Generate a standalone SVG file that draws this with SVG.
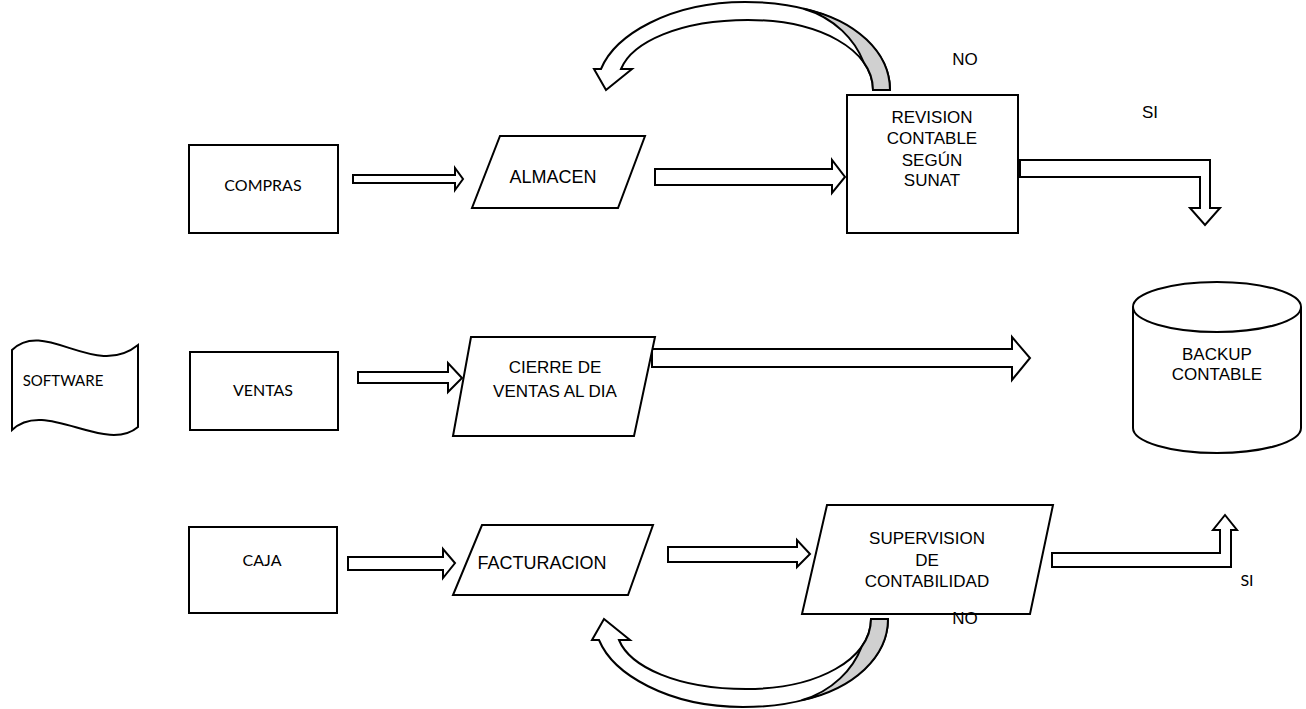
<svg xmlns="http://www.w3.org/2000/svg" width="1306" height="709" viewBox="0 0 1306 709">
<style>
.s{fill:#fff;stroke:#000;stroke-width:2;stroke-linejoin:miter}
.g{fill:#d0d0d0;stroke:#000;stroke-width:2}
.a{font-family:"Liberation Sans",Arial,sans-serif;font-size:17px;fill:#000;text-anchor:middle}
.c{font-family:Lato,"Open Sans",sans-serif;font-size:16px;fill:#000;text-anchor:middle}
</style>
<rect width="1306" height="709" fill="#fff"/>
<g id="connectors">
<path class="s" d="M353,175 L455,175 L455,168 L463,179 L455,190 L455,183 L353,183 Z"/>
<path class="s" d="M655,169 L832,169 L832,160 L845,177 L832,193 L832,185 L655,185 Z"/>
<path class="s" d="M1020,160 L1210,160 L1210,208 L1220,208 L1205,225 L1190,208 L1200,208 L1200,177 L1020,177 Z"/>
<path class="s" d="M358,372 L448,372 L448,363 L462,378 L448,392 L448,383 L358,383 Z"/>
<path class="s" d="M652,349 L1012,349 L1012,337 L1030,358 L1012,380 L1012,367 L652,367 Z"/>
<path class="s" d="M348,557 L443,557 L443,549 L455,563 L443,578 L443,570 L348,570 Z"/>
<path class="s" d="M668,547 L797,547 L797,540 L810,554 L797,567 L797,562 L668,562 Z"/>
<path class="s" d="M1052,553 L1220,553 L1220,530 L1213,530 L1225,515 L1237,530 L1231,530 L1231,567 L1052,567 Z"/>
<g id="loop-top">
<path class="s" d="M890,90 C890,40 830,2 745,2 C670,2 615,35 601,69 L594,69 L606,90 L632,69 L621,69 C632,42 680,20 748,20 C820,20 873,50 873,90 Z"/>
<path class="g" d="M890,90 C890,52.5 856.25,20.1 803.6,8.7 C835,18 855,40 863.6,62.2 C869.7,70.6 873,80 873,90 Z"/>
</g>
<g id="loop-bottom" transform="translate(-2,709) scale(1,-1)">
<path class="s" d="M890,90 C890,40 830,2 745,2 C670,2 615,35 601,69 L594,69 L606,90 L632,69 L621,69 C632,42 680,20 748,20 C820,20 873,50 873,90 Z"/>
<path class="g" d="M890,90 C890,52.5 856.25,20.1 803.6,8.7 C835,18 855,40 863.6,62.2 C869.7,70.6 873,80 873,90 Z"/>
</g>
</g>
<g id="compras"><rect class="s" x="189" y="145" width="149" height="88"/><text class="c" x="263" y="191">COMPRAS</text></g>
<g id="almacen"><polygon class="s" points="500,136 645,136 618,208 472,208"/><text class="a" x="553" y="183" style="font-size:18px">ALMACEN</text></g>
<g id="revision"><rect class="s" x="847" y="95" width="171" height="138"/>
<text class="a" x="932" y="123">REVISION</text><text class="a" x="932" y="144">CONTABLE</text><text class="a" x="932" y="166">SEGÚN</text><text class="a" x="932" y="186">SUNAT</text></g>
<g id="label-no-top"><text class="a" x="965" y="65">NO</text></g>
<g id="label-si-top"><text class="a" x="1150" y="118">SI</text></g>
<g id="software"><path class="s" d="M12,350 C45,318 95,380 138,345 L138,427 C105,455 45,398 12,430 Z"/><text class="c" x="63" y="386" style="font-size:15px">SOFTWARE</text></g>
<g id="ventas"><rect class="s" x="190" y="352" width="148" height="78"/><text class="c" x="263" y="396">VENTAS</text></g>
<g id="cierre"><polygon class="s" points="471,337 655,337 634,436 453,436"/><text class="a" x="555" y="373">CIERRE DE</text><text class="a" x="555" y="397">VENTAS AL DIA</text></g>
<g id="backup"><path class="s" d="M1133,307 L1133,428 A84,25 0 0 0 1301,428 L1301,307"/><ellipse class="s" cx="1217" cy="307" rx="84" ry="25"/>
<text class="a" x="1217" y="360">BACKUP</text><text class="a" x="1217" y="380">CONTABLE</text></g>
<g id="caja"><rect class="s" x="189" y="527" width="148" height="86"/><text class="c" x="262" y="566">CAJA</text></g>
<g id="facturacion"><polygon class="s" points="482,525 653,525 628,595 453,595"/><text class="a" x="542" y="569" style="font-size:18px">FACTURACION</text></g>
<g id="supervision"><polygon class="s" points="827,505 1053,505 1030,614 802,614"/>
<text class="a" x="927" y="544">SUPERVISION</text><text class="a" x="927" y="566">DE</text><text class="a" x="927" y="587">CONTABILIDAD</text></g>
<g id="label-si-bottom"><text class="c" x="1247" y="586">SI</text></g>
<g id="label-no-bottom"><text class="a" x="965" y="624">NO</text></g>
</svg>
